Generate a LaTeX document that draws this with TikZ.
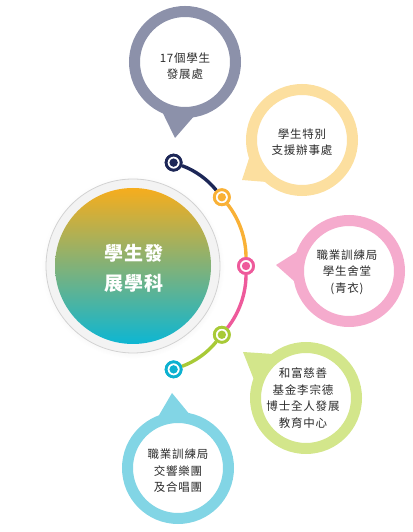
\documentclass[tikz,border=0pt]{standalone}
\usepackage{fontspec}
\newfontfamily\cjk[LetterSpace=7]{Noto Sans CJK TC}
\usetikzlibrary{calc,shadows}
\definecolor{cnavy}{HTML}{1D2757}
\definecolor{corange}{HTML}{F9B136}
\definecolor{cpink}{HTML}{EE5A9B}
\definecolor{cgreen}{HTML}{A8CA37}
\definecolor{ccyan}{HTML}{0DB1D0}
\definecolor{bgray}{HTML}{8C91AA}
\definecolor{byellow}{HTML}{FCDF9F}
\definecolor{bpink}{HTML}{F5ABCD}
\definecolor{bgreen}{HTML}{D3E68B}
\definecolor{bcyan}{HTML}{82D5E5}
\definecolor{txt}{HTML}{2B2B2B}
\definecolor{ringbg}{HTML}{F3F3F3}
\definecolor{ringline}{HTML}{D2D2D2}
\definecolor{gtop}{HTML}{F6AD1D}
\definecolor{gmid}{HTML}{8CAB72}
\definecolor{gbot}{HTML}{0DB6D3}
\begin{document}
\begin{tikzpicture}[x=1pt,y=1pt,
  tdot/.style={circle, inner sep=0pt, minimum size=15pt, draw=#1, line width=2.8pt, fill=white,
    path picture={\fill[#1] (path picture bounding box.center) circle (4.2pt);}},
  seg/.style 2 args={draw=#1, line width=3.4pt, bend left=#2, looseness=0.85},
  bubble/.style={circle, inner sep=0pt, minimum size=101pt, draw=#1, line width=11pt, fill=white},
  btext/.style={text=txt, font=\cjk\fontsize{11.5}{16.5}\selectfont, align=center, inner sep=0pt},
]
\useasboundingbox (0,0) rectangle (412,532);

% central circle
\node (mainring) [circle, inner sep=0pt, minimum size=174pt, fill=ringbg, draw=ringline, line width=0.8pt,
  circular drop shadow={shadow xshift=0pt, shadow yshift=-1pt, shadow scale=1.05, opacity=0.12}] at (133,266) {};
\node (main) [circle, inner sep=0pt, minimum size=156pt, top color=gtop, middle color=gmid, bottom color=gbot] at (133,266) {};
\node (maintext) [text=white, font=\cjk\bfseries\fontsize{19}{30}\selectfont, align=center, inner sep=0pt] at (134,264) {學生發\\展學科};

% timeline dots
\coordinate (ac) at (136,266);
\node (d1) [tdot=cnavy] at ($(ac)+(70:110)$) {};
\node (d2) [tdot=corange] at ($(ac)+(38.7:110)$) {};
\node (d3) [tdot=cpink] at ($(ac)+(0:110)$) {};
\node (d4) [tdot=cgreen] at ($(ac)+(-38.7:110)$) {};
\node (d5) [tdot=ccyan] at ($(ac)+(-70:110)$) {};
\draw[seg={cnavy}{15.6}] (d1) to (d2);
\draw[seg={corange}{19.4}] (d2) to (d3);
\draw[seg={cpink}{19.4}] (d3) to (d4);
\draw[seg={cgreen}{15.6}] (d4) to (d5);
\node[tdot=cnavy] at (d1) {};
\node[tdot=corange] at (d2) {};
\node[tdot=cpink] at (d3) {};
\node[tdot=cgreen] at (d4) {};
\node[tdot=ccyan] at (d5) {};

% bubble centres and tail tips
\coordinate (c1) at (185,470); \coordinate (t1) at (175,394);
\coordinate (c2) at (302,392); \coordinate (t2) at (242,352);
\coordinate (c3) at (349,261); \coordinate (t3) at (276,267);
\coordinate (c4) at (306,134); \coordinate (t4) at (243,180);
\coordinate (c5) at (178,64);  \coordinate (t5) at (172,139);

\fill[bgray]   ($(c1)!52pt!21:(t1)$) -- (t1) -- ($(c1)!52pt!-21:(t1)$) -- cycle;
\fill[byellow] ($(c2)!52pt!21:(t2)$) -- (t2) -- ($(c2)!52pt!-21:(t2)$) -- cycle;
\fill[bpink]   ($(c3)!52pt!21:(t3)$) -- (t3) -- ($(c3)!52pt!-21:(t3)$) -- cycle;
\fill[bgreen]  ($(c4)!52pt!21:(t4)$) -- (t4) -- ($(c4)!52pt!-21:(t4)$) -- cycle;
\fill[bcyan]   ($(c5)!52pt!21:(t5)$) -- (t5) -- ($(c5)!52pt!-21:(t5)$) -- cycle;

\node (b1) [bubble=bgray]   at (c1) {};
\node (b2) [bubble=byellow] at (c2) {};
\node (b3) [bubble=bpink]   at (c3) {};
\node (b4) [bubble=bgreen]  at (c4) {};
\node (b5) [bubble=bcyan]   at (c5) {};

\node (l1) [btext] at (185,466) {17個學生\\發展處};
\node (l2) [btext] at (302,390) {學生特別\\支援辦事處};
\node (l3) [btext] at (347,260) {職業訓練局\\學生舍堂\\(青衣)};
\node (l4) [btext] at (303,134) {和富慈善\\基金李宗德\\博士全人發展\\教育中心};
\node (l5) [btext] at (178,61) {職業訓練局\\交響樂團\\及合唱團};
\end{tikzpicture}
\end{document}
